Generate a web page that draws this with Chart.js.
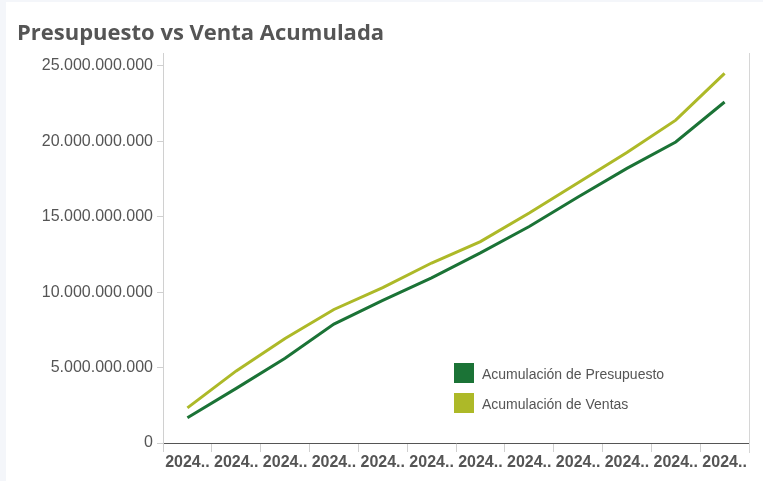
<!DOCTYPE html>
<html>
<head>
<meta charset="utf-8">
<script src="https://cdn.jsdelivr.net/npm/chart.js@4/dist/chart.umd.min.js"></script>
<style>
  html,body{ margin:0; padding:0; background:#f4f6fa; }
  #wrap{ position:absolute; left:6px; top:2px; width:757px; height:479px; background:#fff; }
  canvas{ display:block; }
</style>
</head>
<body>
<div id="wrap"><canvas id="c" width="757" height="479"></canvas></div>
<script>
// ==== DATA ====
const months = ["2024-01","2024-02","2024-03","2024-04","2024-05","2024-06",
                "2024-07","2024-08","2024-09","2024-10","2024-11","2024-12"];
const presupuesto = [1.67e9, 3.62e9, 5.62e9, 7.88e9, 9.45e9, 10.95e9,
                     12.6e9, 14.35e9, 16.3e9, 18.2e9, 19.95e9, 22.6e9];
const ventas      = [2.33e9, 4.78e9, 6.93e9, 8.85e9, 10.3e9, 11.93e9,
                     13.35e9, 15.25e9, 17.25e9, 19.25e9, 21.4e9, 24.5e9];
const yTicks = [0, 5e9, 10e9, 15e9, 20e9, 25e9];

const C_PRES = "#1b7336";
const C_VENT = "#adb928";
const TXT = "#555";

function fmtNum(v){ return String(Math.round(v)).replace(/\B(?=(\d{3})+(?!\d))/g, "."); }

// title, right border, legend
const deco = {
  id:"deco",
  afterDraw(chart){
    const {ctx, chartArea:a} = chart;
    ctx.save();
    ctx.fillStyle = TXT;
    ctx.font = "bold 22px 'Open Sans'";
    ctx.textBaseline = "alphabetic";
    ctx.fillText("Presupuesto vs Venta Acumulada", 11, 38);

    ctx.strokeStyle = "#d6d6d6";
    ctx.lineWidth = 1;
    ctx.beginPath();
    ctx.moveTo(Math.round(a.right)+0.5, a.top);
    ctx.lineTo(Math.round(a.right)+0.5, a.bottom+10);
    ctx.stroke();

    const items = [["Acumulación de Presupuesto", C_PRES], ["Acumulación de Ventas", C_VENT]];
    const lx = a.right - 295, ly = a.bottom - 80;
    ctx.font = "14px 'Liberation Sans'";
    ctx.textBaseline = "middle";
    items.forEach(([t,c],i)=>{
      ctx.fillStyle = c;
      ctx.fillRect(lx, ly + i*30, 20, 20);
      ctx.fillStyle = TXT;
      ctx.fillText(t, lx + 28, ly + i*30 + 12);
    });
    ctx.restore();
  }
};

new Chart(document.getElementById("c"), {
  type:"line",
  data:{
    labels: months,
    datasets:[
      { label:"Acumulación de Presupuesto", data: presupuesto, borderColor:C_PRES, backgroundColor:C_PRES,
        borderWidth:3, pointRadius:0, tension:0, fill:false },
      { label:"Acumulación de Ventas", data: ventas, borderColor:C_VENT, backgroundColor:C_VENT,
        borderWidth:3, pointRadius:0, tension:0, fill:false }
    ]
  },
  options:{
    responsive:false,
    animation:false,
    layout:{ padding:{ top:51, left:0, right:14, bottom:0 } },
    plugins:{ legend:{ display:false }, tooltip:{ enabled:false }, title:{ display:false } },
    scales:{
      x:{
        offset:true,
        grid:{ display:true, drawOnChartArea:false, offset:true, tickLength:9, color:"#cfcfcf" },
        border:{ display:true, color:"#555", dash:[3,2], width:1 },
        ticks:{
          color:TXT, font:{ family:"'Liberation Sans'", size:16, weight:"bold" },
          padding:1, maxRotation:0, autoSkip:false,
          callback(v){ return this.getLabelForValue(v).slice(0,4) + ".."; }
        },
        afterFit(s){ s.height = 38; }
      },
      y:{
        min:0, max:25.85e9,
        afterBuildTicks(s){ s.ticks = yTicks.map(v=>({ value:v })); },
        grid:{ display:true, drawOnChartArea:false, tickLength:6, color:"#cfcfcf" },
        border:{ display:true, color:"#d0d0d0" },
        ticks:{ color:TXT, font:{ family:"'Liberation Sans'", size:16 }, padding:4,
                callback:(v)=>fmtNum(v) },
        afterFit(s){ s.width = 157; }
      }
    }
  },
  plugins:[deco]
});
</script>
</body>
</html>
